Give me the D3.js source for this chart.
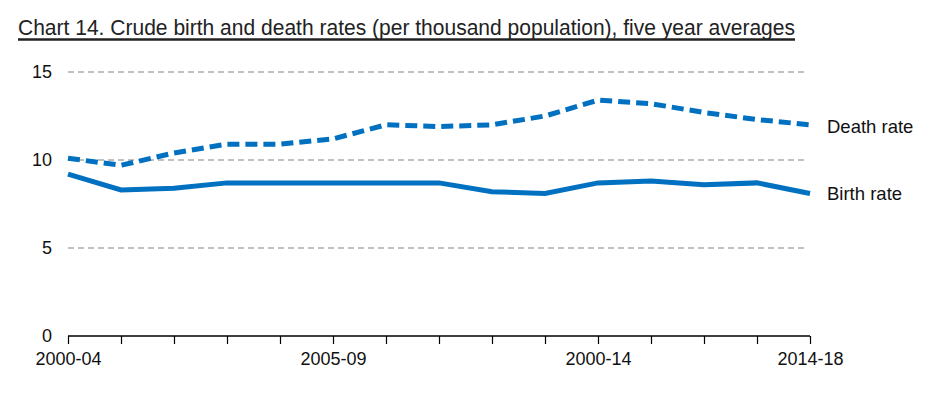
<!DOCTYPE html>
<html>
<head>
<meta charset="utf-8">
<script src="https://cdn.jsdelivr.net/npm/d3@7"></script>
<style>
  body { margin: 0; background: #fff; }
  svg { display: block; font-family: "Liberation Sans", Arial, sans-serif; }
</style>
</head>
<body>
<div id="chart"></div>
<script>
// five year periods
const periods = ['2000-04', '2001-05', '2002-06', '2003-07', '2004-08', '2005-09', '2006-10',
  '2007-11', '2008-12', '2009-13', '2010-14', '2011-15', '2012-16', '2013-17', '2014-18'];
const deathRate = [10.1, 9.7, 10.4, 10.9, 10.9, 11.2, 12.0, 11.9, 12.0, 12.5, 13.4, 13.2, 12.7, 12.3, 12.0];
const birthRate = [9.2, 8.3, 8.4, 8.7, 8.7, 8.7, 8.7, 8.7, 8.2, 8.1, 8.7, 8.8, 8.6, 8.7, 8.1];
// labels as printed on the source chart (including its typo)
const tickIndex = [0, 5, 10, 14];
const tickText = ['2000-04', '2005-09', '2000-14', '2014-18'];
const yTicks = [0, 5, 10, 15];

const width = 946, height = 397;
const margin = { left: 68, right: 136, top: 72, bottom: 61 };
const blue = '#0070c0';

const svg = d3.select('#chart').append('svg')
  .attr('width', width)
  .attr('height', height);

// title
svg.append('text')
  .attr('x', 18).attr('y', 35)
  .attr('font-size', 22)
  .attr('fill', '#222')
  .attr('textLength', 777)
  .attr('lengthAdjust', 'spacingAndGlyphs')
  .text('Chart 14. Crude birth and death rates (per thousand population), five year averages');
svg.append('line')
  .attr('x1', 18).attr('x2', 795)
  .attr('y1', 39.5).attr('y2', 39.5)
  .attr('stroke', '#222').attr('stroke-width', 2.5);

const x = d3.scalePoint()
  .domain(d3.range(periods.length))
  .range([margin.left, width - margin.right]);

const y = d3.scaleLinear()
  .domain([0, 15])
  .range([height - margin.bottom, margin.top]);

// gridlines
svg.append('g')
  .selectAll('line')
  .data(yTicks.filter(d => d > 0))
  .join('line')
  .attr('x1', margin.left).attr('x2', width - margin.right - 2)
  .attr('y1', d => y(d)).attr('y2', d => y(d))
  .attr('stroke', '#808080')
  .attr('stroke-dasharray', '6,4')
  .attr('stroke-width', 1);

// y labels
svg.append('g')
  .selectAll('text')
  .data(yTicks)
  .join('text')
  .attr('x', 52)
  .attr('y', d => y(d))
  .attr('dy', '0.35em')
  .attr('text-anchor', 'end')
  .attr('font-size', 18)
  .attr('fill', '#111')
  .text(d => d);

// x axis
const xAxis = d3.axisBottom(x)
  .tickSize(8)
  .tickFormat(d => {
    const k = tickIndex.indexOf(d);
    return k >= 0 ? tickText[k] : '';
  });

const gx = svg.append('g')
  .attr('transform', `translate(0,${y(0)})`)
  .call(xAxis);
gx.select('.domain').attr('stroke', '#000').attr('stroke-width', 1.5)
  .attr('d', `M${margin.left},0H${width - margin.right}`);
gx.selectAll('.tick line').attr('stroke', '#000').attr('stroke-width', 1.2);
gx.selectAll('.tick text')
  .attr('font-size', 18)
  .attr('font-family', '"Liberation Sans", Arial, sans-serif')
  .attr('fill', '#111')
  .attr('y', 16)
  .attr('dy', '0.71em');

const line = d3.line()
  .x((d, i) => x(i))
  .y(d => y(d));

svg.append('path')
  .datum(deathRate)
  .attr('d', line)
  .attr('fill', 'none')
  .attr('stroke', blue)
  .attr('stroke-width', 5)
  .attr('stroke-dasharray', '12,6');

svg.append('path')
  .datum(birthRate)
  .attr('d', line)
  .attr('fill', 'none')
  .attr('stroke', blue)
  .attr('stroke-width', 5);

// series labels
const last = periods.length - 1;
svg.append('text')
  .attr('x', 827).attr('y', y(deathRate[last]) + 2)
  .attr('dy', '0.35em')
  .attr('font-size', 18.5).attr('fill', '#111')
  .text('Death rate');
svg.append('text')
  .attr('x', 827).attr('y', y(birthRate[last]))
  .attr('dy', '0.35em')
  .attr('font-size', 18.5).attr('fill', '#111')
  .text('Birth rate');
</script>
</body>
</html>
